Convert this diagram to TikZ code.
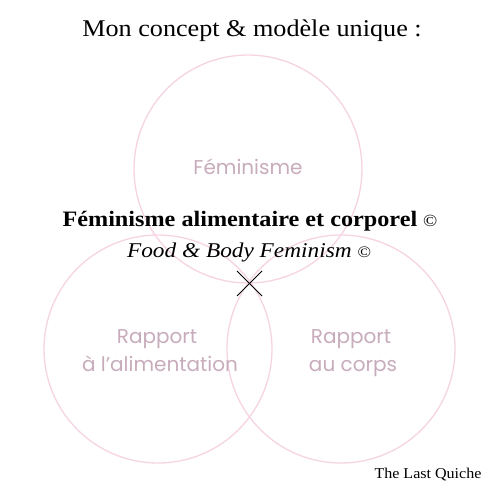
\documentclass[tikz,border=0pt]{standalone}
\usepackage{fontspec}
\setmainfont{Liberation Serif}
\newfontfamily\labelfont{Poppins}
\newfontfamily\titlefont[FakeStretch=1.09]{Liberation Serif}
\newfontfamily\mainfont[FakeStretch=1.10]{Liberation Serif}
\newfontfamily\subfont[FakeStretch=1.11]{Liberation Serif}
\newfontfamily\brandfont[FakeStretch=1.07]{Liberation Serif}
\definecolor{ringpink}{RGB}{246,212,227}
\definecolor{mauve}{RGB}{200,172,188}
\begin{document}
\begin{tikzpicture}[x=1pt,y=-1pt,
  ring/.style={draw=ringpink,line width=1.3pt},
  ringlabel/.style={text=mauve,font=\labelfont\fontsize{20}{26}\selectfont,inner sep=0pt,anchor=base},
  serif/.style={inner sep=0pt,anchor=base}]
\useasboundingbox[fill=white] (0,0) rectangle (500,500);
\node[ring,circle,minimum size=228pt] (top) at (248,169) {};
\node[ring,circle,minimum size=228pt] (left) at (158,349) {};
\node[ring,circle,minimum size=228pt] (right) at (341,349) {};
\node[ringlabel] (lfem) at (248,174) {Féminisme};
\node[ringlabel] (lrap1) at (157,343) {Rapport};
\node[ringlabel] (lrap2) at (160,371) {à l’alimentation};
\node[ringlabel] (rrap1) at (351,343) {Rapport};
\node[ringlabel] (rrap2) at (353,371) {au corps};
\node[serif,font=\titlefont\fontsize{24}{28}\selectfont] (title) at (252,37) {Mon concept \& modèle unique :};
\node[serif,font=\mainfont\bfseries\fontsize{22}{26}\selectfont] (main) at (250,226) {Féminisme alimentaire et corporel \textmd{\fontsize{17}{20}\selectfont©}};
\node[serif,font=\subfont\itshape\fontsize{21}{24}\selectfont] (sub) at (249,257) {Food \& Body Feminism {\fontsize{16}{18}\selectfont©}};
\coordinate (xa) at (237,271);
\coordinate (xb) at (262,296);
\coordinate (xc) at (262,271);
\coordinate (xd) at (237,296);
\draw[line width=1pt] (xa) -- (xb);
\draw[line width=1pt] (xc) -- (xd);
\node[serif,font=\brandfont\fontsize{15}{18}\selectfont] (brand) at (428,478) {The Last Quiche};
\end{tikzpicture}
\end{document}
